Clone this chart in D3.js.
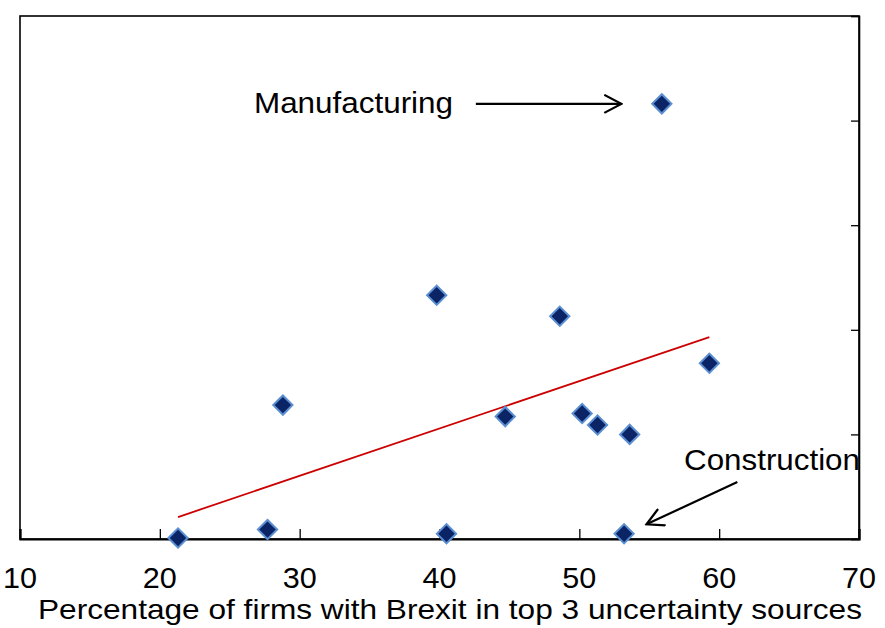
<!DOCTYPE html>
<html>
<head>
<meta charset="utf-8">
<script src="https://cdn.jsdelivr.net/npm/d3@7"></script>
<style>
  html, body { margin: 0; padding: 0; background: #ffffff; }
  svg { display: block; font-family: "Liberation Sans", Arial, sans-serif; }
</style>
</head>
<body>
<svg id="chart" width="885" height="628"></svg>
<script>
// Share of firms citing Brexit among top-3 uncertainty sources, by sector
const brexitShare = [21.3, 27.7, 28.8, 39.8, 40.5, 44.7, 48.6, 50.2, 51.3, 53.6, 53.2, 55.9, 59.3];
const uncertaintyEffect = [0.01, 0.09, 1.28, 2.33, 0.05, 1.17, 2.13, 1.20, 1.09, 1.00, 0.05, 4.16, 1.68];

// Fitted line endpoints
const trendX = [21.3, 59.3];
const trendY = [0.21, 1.93];

const xTicks = [10, 20, 30, 40, 50, 60, 70];
const yTicks = [0, 1, 2, 3, 4, 5];

const xTitle = "Percentage of firms with Brexit in top 3 uncertainty sources";

const svg = d3.select("#chart");
const plotLeft = 20, plotRight = 859, plotTop = 16, plotBottom = 539;

const x = d3.scaleLinear().domain([10, 70]).range([plotLeft, plotRight]);
const y = d3.scaleLinear().domain([0, 5]).range([plotBottom, plotTop]);

// Arrowhead marker (open chevron)
svg.append("defs").append("marker")
  .attr("id", "arrow")
  .attr("viewBox", "-20 -10 22 20")
  .attr("refX", 0).attr("refY", 0)
  .attr("markerWidth", 22).attr("markerHeight", 20)
  .attr("markerUnits", "userSpaceOnUse")
  .attr("orient", "auto")
  .append("path")
  .attr("d", "M-17,-9 L0,0 L-17,9")
  .attr("fill", "none")
  .attr("stroke", "#000")
  .attr("stroke-width", 2.2);

// Trend line
svg.append("line")
  .attr("x1", x(trendX[0])).attr("y1", y(trendY[0]))
  .attr("x2", x(trendX[1])).attr("y2", y(trendY[1]))
  .attr("stroke", "#cc0000").attr("stroke-width", 1.8);

// Annotation arrows
const arrows = [
  { from: [42.6, 4.16], to: [53.0, 4.16] },
  { from: [61.3, 0.545], to: [54.8, 0.14] }
];
svg.selectAll("line.arrow").data(arrows).join("line")
  .attr("class", "arrow")
  .attr("x1", d => x(d.from[0])).attr("y1", d => y(d.from[1]))
  .attr("x2", d => x(d.to[0])).attr("y2", d => y(d.to[1]))
  .attr("stroke", "#000").attr("stroke-width", 2.2)
  .attr("marker-end", "url(#arrow)");

// Annotation labels
svg.append("text")
  .attr("x", 254).attr("y", 113)
  .attr("font-size", 29)
  .attr("textLength", 199).attr("lengthAdjust", "spacingAndGlyphs")
  .text("Manufacturing");
svg.append("text")
  .attr("x", 684).attr("y", 470)
  .attr("font-size", 30)
  .attr("textLength", 176).attr("lengthAdjust", "spacingAndGlyphs")
  .text("Construction");

// Frame
svg.append("rect")
  .attr("x", plotLeft).attr("y", plotTop)
  .attr("width", plotRight - plotLeft).attr("height", plotBottom - plotTop)
  .attr("fill", "none").attr("stroke", "#000").attr("stroke-width", 1.6);

// Bottom axis with inward ticks
const xAxis = svg.append("g")
  .attr("transform", `translate(0,${plotBottom})`)
  .call(d3.axisTop(x).tickValues(xTicks).tickSize(10).tickFormat(""));
xAxis.select(".domain").attr("stroke-width", 2.2);
xAxis.selectAll(".tick line").attr("stroke-width", 1.3);

svg.selectAll("text.xlab").data(xTicks).join("text")
  .attr("class", "xlab")
  .attr("x", d => x(d)).attr("y", 588)
  .attr("text-anchor", "middle")
  .attr("font-size", 29)
  .attr("textLength", 34).attr("lengthAdjust", "spacingAndGlyphs")
  .text(d => d);

// Right axis with inward ticks
const yAxis = svg.append("g")
  .attr("transform", `translate(${plotRight},0)`)
  .call(d3.axisLeft(y).tickValues(yTicks).tickSize(8).tickFormat(""));
yAxis.select(".domain").attr("stroke-width", 1.6);
yAxis.selectAll(".tick line").attr("stroke-width", 1.3);

// Axis title
svg.append("text")
  .attr("x", 38).attr("y", 619)
  .attr("font-size", 28)
  .attr("textLength", 824).attr("lengthAdjust", "spacingAndGlyphs")
  .text(xTitle);

// Sector points as diamonds
const diamond = d3.symbol().type(d3.symbolSquare).size(185);
svg.selectAll("path.pt").data(brexitShare).join("path")
  .attr("class", "pt")
  .attr("d", diamond)
  .attr("transform", (d, i) => `translate(${x(d)},${y(uncertaintyEffect[i])}) rotate(45)`)
  .attr("fill", "#0a2466")
  .attr("stroke", "#5b8fd2")
  .attr("stroke-width", 2);
</script>
</body>
</html>
